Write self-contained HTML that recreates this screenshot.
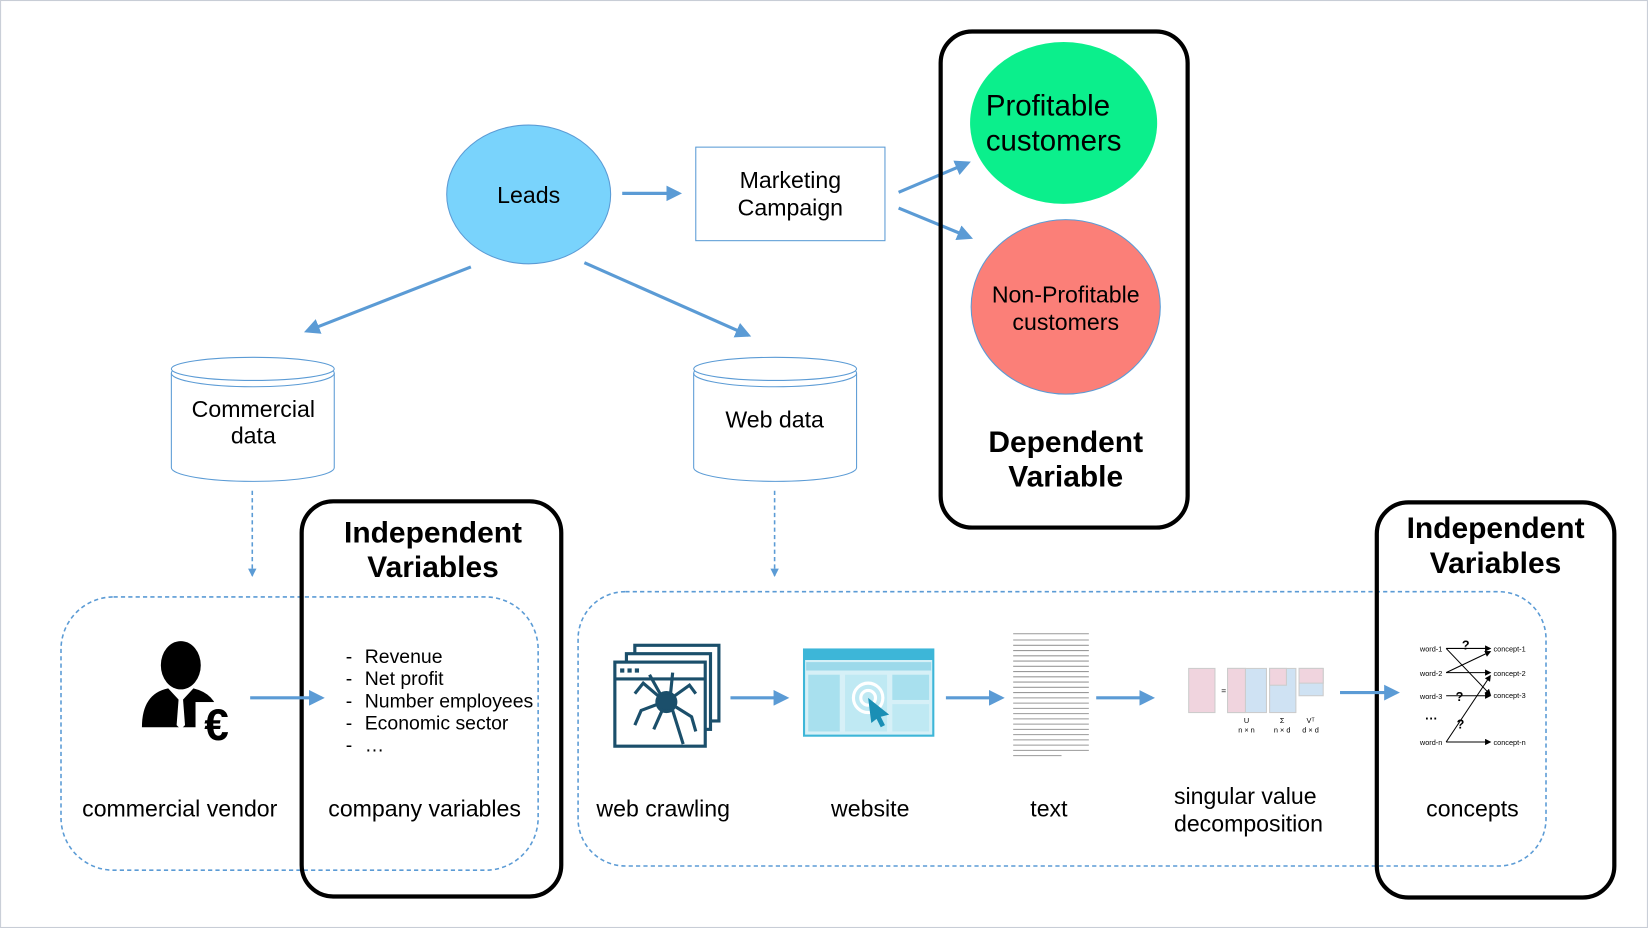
<!DOCTYPE html>
<html><head><meta charset="utf-8"><style>
html,body{margin:0;padding:0;background:#fff}
svg{display:block}
text{font-family:"Liberation Sans",Arial,sans-serif;fill:#000}
</style></head><body>
<svg width="1648" height="928" viewBox="0 0 1568 883" xmlns="http://www.w3.org/2000/svg">
<defs>
<marker id="ah" markerWidth="5" markerHeight="5" refX="4" refY="2.5" orient="auto" markerUnits="strokeWidth"><path d="M0,0 L5,2.5 L0,5 z" fill="#5b9bd5"/></marker>
<marker id="ahs" markerWidth="8" markerHeight="8" refX="7" refY="4" orient="auto" markerUnits="userSpaceOnUse"><path d="M0,0 L8,4 L0,8 z" fill="#5b9bd5"/></marker>
<marker id="bk" markerWidth="6" markerHeight="6" refX="5" refY="3" orient="auto" markerUnits="userSpaceOnUse"><path d="M0,0 L6,3 L0,6 z" fill="#000"/></marker>
</defs>
<rect x="0.5" y="0.5" width="1567" height="882" fill="#fff" stroke="#c8cdd6"/>

<ellipse cx="503" cy="185" rx="78" ry="66" fill="#79d3fc" stroke="#5b9bd5"/>
<text x="503" y="193" font-size="22" text-anchor="middle">Leads</text>
<line x1="592" y1="184" x2="646" y2="184" stroke="#5b9bd5" stroke-width="3" marker-end="url(#ah)"/>
<rect x="662" y="140" width="180" height="89" fill="#fff" stroke="#5b9bd5"/>
<text x="752" y="179" font-size="22" text-anchor="middle">Marketing</text>
<text x="752" y="205" font-size="22" text-anchor="middle">Campaign</text>
<line x1="855" y1="183" x2="921" y2="155" stroke="#5b9bd5" stroke-width="3" marker-end="url(#ah)"/>
<line x1="855" y1="198" x2="923" y2="226" stroke="#5b9bd5" stroke-width="3" marker-end="url(#ah)"/>

<rect x="895" y="30" width="235" height="472" rx="30" fill="none" stroke="#000" stroke-width="4"/>
<ellipse cx="1012" cy="117" rx="89" ry="77" fill="#0bef8c"/>
<text x="938" y="110" font-size="28">Profitable</text>
<text x="938" y="143" font-size="28">customers</text>
<ellipse cx="1014" cy="292" rx="90" ry="83" fill="#fb7f78" stroke="#5b9bd5"/>
<text x="1014" y="288" font-size="22" text-anchor="middle">Non-Profitable</text>
<text x="1014" y="314" font-size="22" text-anchor="middle">customers</text>
<text x="1014" y="430" font-size="28.5" font-weight="bold" text-anchor="middle">Dependent</text>
<text x="1014" y="463" font-size="28.5" font-weight="bold" text-anchor="middle">Variable</text>

<line x1="448" y1="254" x2="292" y2="315" stroke="#5b9bd5" stroke-width="3" marker-end="url(#ah)"/>
<line x1="556" y1="250" x2="712" y2="319" stroke="#5b9bd5" stroke-width="3" marker-end="url(#ah)"/>

<g fill="#fff" stroke="#5b9bd5">
<path d="M163,355 L163,445 A77.5,13 0 0 0 318,445 L318,355"/>
<ellipse cx="240.5" cy="355" rx="77.5" ry="13"/>
<ellipse cx="240.5" cy="351" rx="77.5" ry="11"/>
<path d="M660,355 L660,445 A77.5,13 0 0 0 815,445 L815,355"/>
<ellipse cx="737.5" cy="355" rx="77.5" ry="13"/>
<ellipse cx="737.5" cy="351" rx="77.5" ry="11"/>
</g>
<text x="241" y="397" font-size="22" text-anchor="middle">Commercial</text>
<text x="241" y="422" font-size="22" text-anchor="middle">data</text>
<text x="737" y="407" font-size="22" text-anchor="middle">Web data</text>

<line x1="240" y1="467" x2="240" y2="548" stroke="#5b9bd5" stroke-width="1.5" stroke-dasharray="4,3" marker-end="url(#ahs)"/>
<line x1="737" y1="467" x2="737" y2="548" stroke="#5b9bd5" stroke-width="1.5" stroke-dasharray="4,3" marker-end="url(#ahs)"/>

<rect x="58" y="568" width="454" height="260" rx="50" fill="none" stroke="#5b9bd5" stroke-width="1.5" stroke-dasharray="4,3"/>
<rect x="550" y="563" width="921" height="261" rx="45" fill="none" stroke="#5b9bd5" stroke-width="1.5" stroke-dasharray="4,3"/>

<rect x="287" y="477" width="247" height="376" rx="30" fill="none" stroke="#000" stroke-width="4"/>
<text x="412" y="516" font-size="28.5" font-weight="bold" text-anchor="middle">Independent</text>
<text x="412" y="549" font-size="28.5" font-weight="bold" text-anchor="middle">Variables</text>
<rect x="1310" y="478" width="226" height="376" rx="30" fill="none" stroke="#000" stroke-width="4"/>
<text x="1423" y="512" font-size="28.5" font-weight="bold" text-anchor="middle">Independent</text>
<text x="1423" y="545" font-size="28.5" font-weight="bold" text-anchor="middle">Variables</text>

<g fill="#000">
<ellipse cx="172" cy="633" rx="19" ry="23"/>
<path d="M135,692 Q135,660 160,655 L172,668 L184,655 Q205,660 208,680 L205,692 Z"/>
</g>
<path d="M167,658 L172,668 L177,658 Z" fill="#fff"/>
<path d="M170,664 L174,664 L176,690 L172,694 L168,690 Z" fill="#fff"/>
<rect x="186" y="668" width="40" height="40" fill="#fff"/>
<text x="206" y="704" font-size="42" font-weight="bold" text-anchor="middle">€</text>

<line x1="238" y1="664" x2="306" y2="664" stroke="#5b9bd5" stroke-width="3" marker-end="url(#ah)"/>
<g font-size="18.5">
<text x="329" y="631">-</text><text x="347" y="631">Revenue</text>
<text x="329" y="652">-</text><text x="347" y="652">Net profit</text>
<text x="329" y="673">-</text><text x="347" y="673">Number employees</text>
<text x="329" y="694">-</text><text x="347" y="694">Economic sector</text>
<text x="329" y="715">-</text><text x="347" y="715">…</text>
</g>

<g fill="none" stroke="#1b4f6b" stroke-width="3">
<rect x="604" y="614" width="80" height="72"/>
<rect x="596" y="622" width="80" height="72" fill="#fff"/>
<rect x="585" y="630" width="86" height="80" fill="#fff"/>
<line x1="585" y1="646" x2="671" y2="646"/>
<circle cx="634" cy="668" r="9" fill="#1b4f6b"/>
<path d="M626,662 L612,650 L604,660 M626,670 L610,676 L604,690 M642,662 L656,652 L662,660 M642,672 L658,682 L662,696 M630,676 L622,694 M640,676 L650,708 M628,660 L618,642 M638,660 L640,640"/>
</g>
<rect x="590" y="636" width="4" height="4" fill="#1b4f6b"/><rect x="597" y="636" width="4" height="4" fill="#1b4f6b"/><rect x="604" y="636" width="4" height="4" fill="#1b4f6b"/>

<line x1="695" y1="664" x2="748" y2="664" stroke="#5b9bd5" stroke-width="3" marker-end="url(#ah)"/>

<rect x="765" y="618" width="123" height="82" fill="#d6f0f7" stroke="#3db6d8" stroke-width="2"/>
<rect x="765" y="618" width="123" height="10" fill="#3db6d8"/>
<rect x="767" y="630" width="119" height="8" fill="#9cd9ea"/>
<rect x="769" y="642" width="30" height="54" fill="#a8e0ee"/>
<rect x="804" y="642" width="40" height="54" fill="#bfe9f3"/>
<rect x="849" y="642" width="35" height="24" fill="#a8e0ee"/>
<rect x="849" y="670" width="35" height="26" fill="#bfe9f3"/>
<circle cx="826" cy="664" r="14" fill="none" stroke="#fff" stroke-width="3"/>
<circle cx="826" cy="664" r="7" fill="none" stroke="#fff" stroke-width="3"/>
<path d="M826,664 L846,680 L838,682 L842,690 L838,692 L834,684 L829,688 Z" fill="#1a8fb5"/>

<line x1="900" y1="664" x2="953" y2="664" stroke="#5b9bd5" stroke-width="3" marker-end="url(#ah)"/>

<g stroke="#999" stroke-width="1">
<line x1="964" y1="603" x2="1036" y2="603"/>
<line x1="964" y1="609" x2="1036" y2="609"/><line x1="964" y1="614" x2="1036" y2="614"/><line x1="964" y1="619" x2="1036" y2="619"/><line x1="964" y1="624" x2="1036" y2="624"/><line x1="964" y1="629" x2="1036" y2="629"/><line x1="964" y1="634" x2="1036" y2="634"/><line x1="964" y1="639" x2="1036" y2="639"/><line x1="964" y1="644" x2="1036" y2="644"/><line x1="964" y1="649" x2="1036" y2="649"/><line x1="964" y1="654" x2="1036" y2="654"/><line x1="964" y1="659" x2="1036" y2="659"/><line x1="964" y1="664" x2="1036" y2="664"/><line x1="964" y1="669" x2="1036" y2="669"/><line x1="964" y1="674" x2="1036" y2="674"/><line x1="964" y1="679" x2="1036" y2="679"/><line x1="964" y1="684" x2="1036" y2="684"/><line x1="964" y1="689" x2="1036" y2="689"/><line x1="964" y1="694" x2="1036" y2="694"/><line x1="964" y1="699" x2="1036" y2="699"/><line x1="964" y1="704" x2="1036" y2="704"/><line x1="964" y1="709" x2="1036" y2="709"/><line x1="964" y1="714" x2="1036" y2="714"/><line x1="964" y1="719" x2="1010" y2="719"/>
</g>

<line x1="1043" y1="664" x2="1096" y2="664" stroke="#5b9bd5" stroke-width="3" marker-end="url(#ah)"/>

<rect x="1131" y="636" width="25" height="42" fill="#f0d4de" stroke="#ccc"/>
<text x="1162" y="660" font-size="8" fill="#666">=</text>
<rect x="1168" y="636" width="37" height="42" fill="#cfe2f3" stroke="#ccc"/>
<rect x="1168" y="636" width="17" height="42" fill="#f0d4de" stroke="#ccc"/>
<rect x="1208" y="636" width="25" height="42" fill="#cfe2f3" stroke="#ccc"/>
<rect x="1208" y="636" width="16" height="16" fill="#f0d4de" stroke="#ccc"/>
<rect x="1236" y="636" width="23" height="26" fill="#cfe2f3" stroke="#ccc"/>
<rect x="1236" y="636" width="23" height="14" fill="#f0d4de" stroke="#ccc"/>
<g font-size="7" fill="#666" font-family="Liberation Serif,serif" text-anchor="middle">
<text x="1186" y="688">U</text><text x="1186" y="697">n × n</text>
<text x="1220" y="688">Σ</text><text x="1220" y="697">n × d</text>
<text x="1247" y="688">Vᵀ</text><text x="1247" y="697">d × d</text>
</g>

<line x1="1275" y1="659" x2="1329" y2="659" stroke="#5b9bd5" stroke-width="3" marker-end="url(#ah)"/>

<g font-size="7" fill="#000">
<text x="1351" y="620">word-1</text><text x="1351" y="643">word-2</text><text x="1351" y="665">word-3</text><text x="1351" y="709">word-n</text>
<text x="1421" y="620">concept-1</text><text x="1421" y="643">concept-2</text><text x="1421" y="664">concept-3</text><text x="1421" y="709">concept-n</text>
</g>
<text x="1356" y="688" font-size="12" font-weight="bold">···</text>
<g stroke="#000" stroke-width="1" marker-end="url(#bk)">
<line x1="1376" y1="617" x2="1418" y2="617"/>
<line x1="1376" y1="617" x2="1418" y2="661"/>
<line x1="1376" y1="640" x2="1418" y2="620"/>
<line x1="1376" y1="640" x2="1418" y2="640"/>
<line x1="1376" y1="662" x2="1418" y2="662"/>
<line x1="1376" y1="706" x2="1418" y2="643"/>
<line x1="1376" y1="706" x2="1418" y2="706"/>
</g>
<g font-size="12" fill="#aaa" font-weight="bold"><text x="1391" y="618">?</text><text x="1385" y="667">?</text><text x="1386" y="693">?</text></g>

<g font-size="22">
<text x="171" y="777" text-anchor="middle">commercial vendor</text>
<text x="404" y="777" text-anchor="middle">company variables</text>
<text x="631" y="777" text-anchor="middle">web crawling</text>
<text x="828" y="777" text-anchor="middle">website</text>
<text x="998" y="777" text-anchor="middle">text</text>
<text x="1117" y="765">singular value</text>
<text x="1117" y="791">decomposition</text>
<text x="1401" y="777" text-anchor="middle">concepts</text>
</g>
</svg>
</body></html>
